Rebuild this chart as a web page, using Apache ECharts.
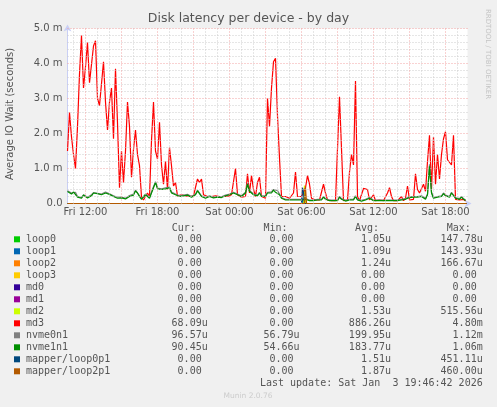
<!DOCTYPE html>
<html><head><meta charset="utf-8">
<script src="https://cdn.jsdelivr.net/npm/echarts@6/dist/echarts.min.js"></script>
<style>html,body{margin:0;padding:0;background:#f0f0f0}#c{width:497px;height:407px}</style>
</head><body><div id="c"></div>
<script>
// Time axis: hours since Fri 00:00; samples every 10 minutes from Fri 10:30
const START_HOUR = 10.5;
const STEP_HOURS = 1 / 6;
const X_MIN = 10.5;
const X_MAX = 43 + 50 / 60;

const xMinorHours = [11,13,14,16,17,19,20,22,23,25,26,28,29,31,32,34,35,37,38,40,41,43];
const xMajorHours = [12,15,18,21,24,27,30,33,36,39,42];
const xLabelHours = [12,18,24,30,36,42];
const xLabels = ['Fri 12:00','Fri 18:00','Sat 00:00','Sat 06:00','Sat 12:00','Sat 18:00'];
const yMinorValues = [0.2,0.4,0.6,0.8,1.2,1.4,1.6,1.8,2.2,2.4,2.6,2.8,3.2,3.4,3.6,3.8,4.2,4.4,4.6,4.8];
const yMajorValues = [1,2,3,4,5];
const yLabelValues = [0,1,2,3,4,5];
const yLabels = ['0.0','1.0 m','2.0 m','3.0 m','4.0 m','5.0 m'];

// values in milliseconds
const md3 = [
1.5,2.6,1.9,1.4,1.0,2.2,3.7,4.8,3.3,3.9,
4.6,3.45,3.4,4.5,4.65,3.0,2.8,2.75,4.05,2.9,
2.1,2.9,3.3,1.85,3.85,2.3,0.45,1.5,0.6,1.5,
2.9,2.2,0.75,1.55,2.1,1.4,1.08,0.18,0.1,0.15,
0.3,0.2,1.8,
2.9,1.5,1.27,2.32,1.1,0.55,1.2,0.4,1.6,1.08,
0.5,0.6,0.22,0.2,0.25,0.2,0.22,0.25,0.2,0.25,
0.22,0.2,0.7,0.6,0.7,0.25,0.22,0.2,0.25,0.2,
0.18,0.22,0.25,0.2,0.22,0.2,0.25,0.2,0.18,0.25,
0.3,1.0,
0.25,0.2,0.18,0.22,0.2,0.85,0.3,0.8,0.4,0.2,
0.6,0.75,0.2,0.17,0.15,3.0,2.2,3.3,4.05,4.15,
2.5,1.3,0.2,0.15,0.2,0.18,0.15,0.2,0.3,0.9,
0.2,0.18,0.2,0.25,0.45,0.8,0.55,0.15,0.1,0.1,
0.1,0.1,0.15,0.55,0.3,0.1,0.08,0.08,0.1,0.08,
0.1,3.05,3.1,0.08,0.08,0.1,0.9,1.4,1.1,3.5,
0.2,0.08,0.1,0.43,0.45,0.4,0.1,0.08,0.25,0.08,
0.08,0.1,0.08,0.08,0.1,0.3,0.45,0.2,0.08,0.08,
0.08,0.08,
0.2,0.08,0.15,0.5,0.1,0.12,0.12,0.85,0.4,0.3,
0.25,0.55,0.35,1.2,1.95,0.4,1.9,0.55,1.4,0.7,
1.4,1.85,2.05,1.25,1.3,1.1,1.95,0.12,0.08,0.1,
0.08,0.12,0.07
];
const nvme0n1 = [
0.36,0.31,0.3,0.35,0.32,0.2,0.16,0.17,0.25,0.23,
0.18,0.17,0.25,0.31,0.3,0.29,0.34,0.27,0.3,0.33,
0.34,0.28,0.27,0.22,0.19,0.18,0.16,0.18,0.2,0.15,
0.2,0.23,0.24,0.27,0.38,0.33,0.22,0.14,0.17,0.27,
0.3,0.17,0.33,
0.48,0.62,0.44,0.41,0.42,0.38,0.45,0.4,0.47,0.33,
0.3,0.27,0.24,0.22,0.2,0.24,0.22,0.26,0.22,0.2,
0.24,0.27,0.38,0.3,0.22,0.2,0.17,0.19,0.22,0.2,
0.18,0.22,0.2,0.17,0.19,0.22,0.24,0.2,0.27,0.24,
0.32,0.37,
0.27,0.24,0.22,0.24,0.32,0.58,0.37,0.32,0.27,0.22,
0.24,0.32,0.22,0.2,0.22,0.32,0.37,0.33,0.4,0.35,
0.37,0.27,0.17,0.14,0.12,0.14,0.12,0.1,0.12,0.17,
0.12,0.1,0.12,0.1,0.14,0.12,0.1,0.12,0.1,0.1,
0.12,0.1,0.12,0.2,0.14,0.1,0.1,0.09,0.1,0.12,
0.1,0.2,0.14,0.1,0.09,0.1,0.12,0.14,0.12,0.22,
0.12,0.1,0.09,0.1,0.12,0.14,0.17,0.12,0.1,0.09,
0.1,0.12,0.1,0.09,0.1,0.12,0.1,0.09,0.1,0.12,
0.1,0.1,
0.12,0.1,0.14,0.17,0.19,0.22,0.2,0.22,0.2,0.17,
0.22,0.17,0.14,0.27,1.12,0.33,0.17,0.22,0.2,0.24,
0.22,0.3,0.24,0.22,0.2,0.32,0.27,0.17,0.14,0.14,
0.2,0.14,0.097
];
const nvme1n1 = [
0.34,0.3,0.27,0.33,0.3,0.18,0.13,0.15,0.24,0.2,
0.16,0.15,0.22,0.3,0.27,0.28,0.32,0.25,0.28,0.3,
0.32,0.26,0.24,0.2,0.17,0.15,0.14,0.16,0.17,0.13,
0.18,0.2,0.22,0.24,0.36,0.3,0.2,0.12,0.15,0.25,
0.27,0.15,0.3,
0.45,0.6,0.42,0.38,0.4,0.36,0.42,0.38,0.45,0.3,
0.28,0.25,0.22,0.2,0.18,0.22,0.2,0.24,0.2,0.18,
0.22,0.25,0.36,0.28,0.2,0.18,0.15,0.17,0.2,0.18,
0.16,0.2,0.18,0.15,0.17,0.2,0.22,0.18,0.25,0.22,
0.3,0.35,
0.25,0.22,0.2,0.22,0.3,0.55,0.35,0.3,0.25,0.2,
0.22,0.3,0.2,0.18,0.2,0.3,0.35,0.3,0.38,0.32,
0.35,0.25,0.15,0.12,0.1,0.12,0.1,0.08,0.1,0.15,
0.1,0.08,0.1,0.08,0.12,0.1,0.08,0.1,0.08,0.08,
0.1,0.08,0.1,0.18,0.12,0.08,0.08,0.07,0.08,0.1,
0.08,0.18,0.12,0.08,0.07,0.08,0.1,0.12,0.1,0.2,
0.1,0.08,0.07,0.08,0.1,0.12,0.15,0.1,0.08,0.07,
0.08,0.1,0.08,0.07,0.08,0.1,0.08,0.07,0.08,0.1,
0.08,0.08,
0.1,0.08,0.12,0.15,0.17,0.2,0.18,0.2,0.18,0.15,
0.2,0.15,0.12,0.25,1.06,0.3,0.15,0.2,0.18,0.22,
0.2,0.28,0.22,0.2,0.18,0.3,0.25,0.15,0.12,0.12,
0.18,0.12,0.09
];
// sparse series: [hour, ms]
const loop0 = [[10.5,0],[30.1,0],[30.2,0.148],[30.3,0],[43.75,0]];
const loop1 = [[10.5,0],[30.0,0],[30.08,0.144],[30.17,0],[43.75,0]];
const loop2 = [[10.5,0],[30.2,0],[30.3,0.167],[30.4,0],[43.75,0]];
const loop3 = [[10.5,0],[43.75,0]];
const md0 = [[10.5,0],[43.75,0]];
const md1 = [[10.5,0],[43.75,0]];
const md2 = [[10.5,0],[30.17,0],[30.25,0.516],[30.33,0],[43.75,0]];
const mapperLoop0p1 = [[10.5,0],[30.0,0],[30.08,0.451],[30.17,0.3],[30.25,0],[43.75,0]];
const mapperLoop2p1 = [[10.5,0],[30.25,0],[30.33,0.46],[30.42,0],[43.75,0]];

const legendNames = ['loop0','loop1','loop2','loop3','md0','md1','md2','md3','nvme0n1','nvme1n1','mapper/loop0p1','mapper/loop2p1'];
const legendColors = ['#00CC00','#0066B3','#FF8000','#FFCC00','#330099','#990099','#CCFF00','#FF0000','#808080','#008F00','#00487D','#B35A00'];
const curVals = ['0.00','0.00','0.00','0.00','0.00','0.00','0.00','68.09u','96.57u','90.45u','0.00','0.00'];
const minVals = ['0.00','0.00','0.00','0.00','0.00','0.00','0.00','0.00','56.79u','54.66u','0.00','0.00'];
const avgVals = ['1.05u','1.09u','1.24u','0.00','0.00','0.00','1.53u','886.26u','199.95u','183.77u','1.51u','1.87u'];
const maxVals = ['147.78u','143.93u','166.67u','0.00','0.00','0.00','515.56u','4.80m','1.12m','1.06m','451.11u','460.00u'];
const colHeaders = ['Cur:','Min:','Avg:','Max:'];

const toPairs = vals => vals.map((v, i) => [START_HOUR + i * STEP_HOURS, v]);
const seriesData = [loop0, loop1, loop2, loop3, md0, md1, md2, toPairs(md3), toPairs(nvme0n1), toPairs(nvme1n1), mapperLoop0p1, mapperLoop2p1];

const TXT = '#555555';
const MONO = '10px "DejaVu Sans Mono"';
const graphics = [];
graphics.push({type:'text', x:10.5, y:114, rotation:Math.PI/2, style:{text:'Average IO Wait (seconds)', fill:TXT, font:'10px "DejaVu Sans"', align:'center', verticalAlign:'middle'}});
graphics.push({type:'text', x:488, y:54, rotation:-Math.PI/2, style:{text:'RRDTOOL / TOBI OETIKER', fill:'#c4c4c4', font:'7px "DejaVu Sans"', align:'center', verticalAlign:'middle'}});
const colRight = [207.7, 299.5, 391, 482.7];
const CH = 6.02;
colHeaders.forEach((h, c) => graphics.push({type:'text', x:colRight[c]-36, y:228.3, style:{text:h, fill:TXT, font:MONO, align:'left', verticalAlign:'middle'}}));
const cols = [curVals, minVals, avgVals, maxVals];
legendNames.forEach((n, k) => {
  const y = 239.3 + 12 * k;
  graphics.push({type:'rect', shape:{x:14, y:y-3, width:6, height:6}, style:{fill:legendColors[k]}});
  graphics.push({type:'text', x:26, y:y, style:{text:n, fill:TXT, font:MONO, align:'left', verticalAlign:'middle'}});
  cols.forEach((arr, c) => {
    const s = arr[k];
    const hasUnit = /[a-z]$/i.test(s);
    graphics.push({type:'text', x:colRight[c] - (hasUnit ? 0 : CH), y:y, style:{text:s, fill:TXT, font:MONO, align:'right', verticalAlign:'middle'}});
  });
});
graphics.push({type:'text', x:482.7, y:383.3, style:{text:'Last update: Sat Jan  3 19:46:42 2026', fill:TXT, font:MONO, align:'right', verticalAlign:'middle'}});
graphics.push({type:'text', x:248, y:396, style:{text:'Munin 2.0.76', fill:'#cccccc', font:'7.5px "DejaVu Sans"', align:'center', verticalAlign:'middle'}});

const MINOR_STYLE = {color:'#cccccc', width:1, type:[1,2]};
const MAJOR_STYLE = {color:'#f2a4a4', width:1, type:[1,2]};
const AXIS_BLUE = '#c9cff5';

const gridLines = [].concat(
  xMinorHours.map(h => ({xAxis:h, lineStyle:MINOR_STYLE})),
  yMinorValues.map(v => ({yAxis:v, lineStyle:MINOR_STYLE})),
  xMajorHours.map(h => ({xAxis:h, lineStyle:MAJOR_STYLE})),
  yMajorValues.map(v => ({yAxis:v, lineStyle:MAJOR_STYLE}))
);

const chart = echarts.init(document.getElementById('c'), null, {renderer:'canvas'});
chart.setOption({
  animation:false,
  backgroundColor:'#f0f0f0',
  textStyle:{fontFamily:'DejaVu Sans'},
  title:{text:'Disk latency per device - by day', left:'center', top:12.5, padding:0,
    textStyle:{fontSize:12.5, fontWeight:'normal', color:TXT, fontFamily:'DejaVu Sans'}},
  grid:{left:67.5, right:29.5, top:28.5, bottom:203.5, show:true, backgroundColor:'#ffffff', borderWidth:0, containLabel:false, outerBoundsMode:'none'},
  xAxis:{type:'value', min:X_MIN, max:X_MAX, position:'bottom',
     axisLine:{show:true, onZero:false, symbol:['none','arrow'], symbolSize:[6,7], symbolOffset:[0,4], lineStyle:{color:AXIS_BLUE, width:1}},
     axisTick:{show:false},
     splitLine:{show:false},
     axisLabel:{show:true, customValues:xLabelHours, margin:4, color:TXT, fontSize:10, fontFamily:'DejaVu Sans',
       formatter:v => { const j = xLabelHours.indexOf(Math.round(v)); return j >= 0 ? xLabels[j] : ''; }}},
  yAxis:{type:'value', min:0, max:5, interval:1, position:'left',
     axisLine:{show:true, onZero:false, symbol:['none','arrow'], symbolSize:[6,7], symbolOffset:[0,4], lineStyle:{color:AXIS_BLUE, width:1}},
     axisTick:{show:false},
     splitLine:{show:false},
     axisLabel:{show:true, margin:5, color:TXT, fontSize:10, fontFamily:'DejaVu Sans',
       formatter:v => { const j = yLabelValues.indexOf(Math.round(v)); return j >= 0 ? yLabels[j] : ''; }}},
  series: [{
    name:'grid', type:'line', data:[], z:1, silent:true,
    markLine:{silent:true, symbol:['none','none'], label:{show:false}, animation:false, emphasis:{disabled:true}, data:gridLines}
  }].concat(legendNames.map((n, k) => ({
    name:n, type:'line', data:seriesData[k], showSymbol:false, symbol:'none',
    lineStyle:{color:legendColors[k], width:1.2}, itemStyle:{color:legendColors[k]}, z:2, silent:true, clip:true
  }))),
  graphic: graphics
});
</script>
</body></html>
